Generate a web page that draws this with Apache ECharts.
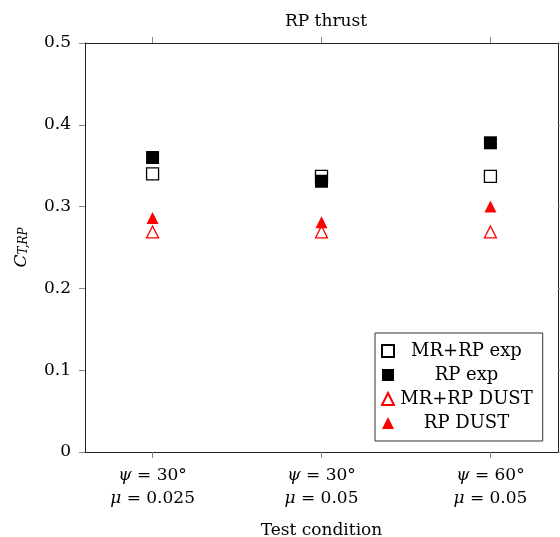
<!DOCTYPE html>
<html>
<head>
<meta charset="utf-8">
<script src="https://cdn.jsdelivr.net/npm/echarts@6/dist/echarts.min.js"></script>
<style>
  html, body { margin: 0; padding: 0; background: #fff; }
  #chart { width: 560px; height: 537px; }
</style>
</head>
<body>
<div id="chart"></div>
<script>
// Test conditions (x positions 0, 1, 2)
const psiLabels = ['30°', '30°', '60°'];
const muLabels = ['0.025', '0.05', '0.05'];

// Rotor thrust coefficient C_T,RP per condition
const mrRpExp = [0.340, 0.337, 0.337];
const rpExp = [0.360, 0.331, 0.378];
const mrRpDust = [0.269, 0.269, 0.269];
const rpDust = [0.286, 0.281, 0.300];

const yTicks = [0, 0.1, 0.2, 0.3, 0.4, 0.5];

const FONT = 'DejaVu Serif';
const AXIS_COLOR = '#222';
const TICK_COLOR = '#888';

function pts(values) {
  return values.map((v, i) => [i, v]);
}

const chart = echarts.init(document.getElementById('chart'), null, { renderer: 'canvas' });

const xBase = {
  type: 'value',
  min: -0.4,
  max: 2.4,
  splitLine: { show: false },
  axisLine: { show: true, onZero: false, lineStyle: { color: AXIS_COLOR, width: 1 } },
  axisTick: { show: true, inside: false, length: 6, customValues: [0, 1, 2], lineStyle: { color: TICK_COLOR } }
};

const yBase = {
  type: 'value',
  min: 0,
  max: 0.5,
  interval: 0.1,
  splitLine: { show: false },
  axisLine: { show: true, onZero: false, lineStyle: { color: AXIS_COLOR, width: 1 } },
  axisTick: { show: true, inside: false, length: 6, lineStyle: { color: TICK_COLOR } }
};

chart.setOption({
  animation: false,
  backgroundColor: '#fff',
  textStyle: { fontFamily: FONT },
  title: {
    text: 'RP thrust',
    left: 321,
    textAlign: 'center',
    top: 8,
    textStyle: { fontFamily: FONT, fontSize: 17, fontWeight: 'normal', color: '#000' }
  },
  grid: { left: 85, right: 2, top: 43, bottom: 85, containLabel: false, outerBoundsMode: 'none' },
  xAxis: [
    Object.assign({}, xBase, {
      position: 'bottom',
      name: 'Test condition',
      nameLocation: 'middle',
      nameGap: 70,
      nameTextStyle: { fontFamily: FONT, fontSize: 17, color: '#000' },
      axisLabel: {
        show: true,
        customValues: [0, 1, 2],
        margin: 12,
        fontFamily: FONT,
        fontSize: 17,
        color: '#000',
        lineHeight: 23,
        align: 'center',
        formatter: (v) => {
          const i = Math.round(v);
          return '{i|ψ} = ' + psiLabels[i] + '\n{i|μ} = ' + muLabels[i];
        },
        rich: {
          i: { fontFamily: FONT, fontStyle: 'italic', fontSize: 17, color: '#000', lineHeight: 23 }
        }
      }
    }),
    Object.assign({}, xBase, {
      position: 'top',
      axisLabel: { show: false }
    })
  ],
  yAxis: [
    Object.assign({}, yBase, {
      position: 'left',
      name: '{c|C}{s|T,RP}',
      nameLocation: 'middle',
      nameGap: 55,
      nameRotate: 90,
      nameTextStyle: {
        fontFamily: FONT,
        color: '#000',
        rich: {
          c: { fontFamily: FONT, fontStyle: 'italic', fontSize: 17, color: '#000', verticalAlign: 'bottom' },
          s: { fontFamily: FONT, fontStyle: 'italic', fontSize: 12, color: '#000', verticalAlign: 'top', padding: [8, 0, 0, 0] }
        }
      },
      axisLabel: {
        show: true,
        margin: 14,
        fontFamily: FONT,
        fontSize: 17,
        color: '#000',
        formatter: (v) => {
          const hit = yTicks.find(t => Math.abs(t - v) < 1e-9);
          return hit === undefined ? '' : String(hit);
        }
      }
    }),
    Object.assign({}, yBase, {
      position: 'right',
      axisLabel: { show: false }
    })
  ],
  legend: {
    show: true,
    orient: 'vertical',
    left: 375,
    top: 333,
    padding: [9, 10, 9, 6],
    itemGap: 6,
    itemWidth: 12,
    itemHeight: 12,
    borderColor: '#333',
    borderWidth: 1,
    backgroundColor: '#fff',
    textStyle: {
      fontFamily: FONT,
      fontSize: 18,
      color: '#000',
      rich: {
        t: { fontFamily: FONT, fontSize: 18, color: '#000', width: 135, align: 'center' }
      }
    },
    formatter: (name) => '{t|' + name + '}',
    data: ['MR+RP exp', 'RP exp', 'MR+RP DUST', 'RP DUST']
  },
  series: [
    {
      name: 'MR+RP exp',
      type: 'scatter',
      symbol: 'rect',
      symbolSize: 12,
      itemStyle: { color: '#fff', borderColor: '#000', borderWidth: 1.3, opacity: 1 },
      data: pts(mrRpExp),
      z: 2
    },
    {
      name: 'RP exp',
      type: 'scatter',
      symbol: 'rect',
      symbolSize: 13,
      itemStyle: { color: '#000', borderColor: '#000', borderWidth: 0, opacity: 1 },
      data: pts(rpExp),
      z: 3
    },
    {
      name: 'MR+RP DUST',
      type: 'scatter',
      symbol: 'triangle',
      symbolSize: 12,
      itemStyle: { color: '#fff', borderColor: '#f00', borderWidth: 1.3, opacity: 1 },
      data: pts(mrRpDust),
      z: 2
    },
    {
      name: 'RP DUST',
      type: 'scatter',
      symbol: 'triangle',
      symbolSize: 12,
      itemStyle: { color: '#f00', borderColor: '#f00', borderWidth: 0, opacity: 1 },
      data: pts(rpDust),
      z: 3
    }
  ]
});
</script>
</body>
</html>
